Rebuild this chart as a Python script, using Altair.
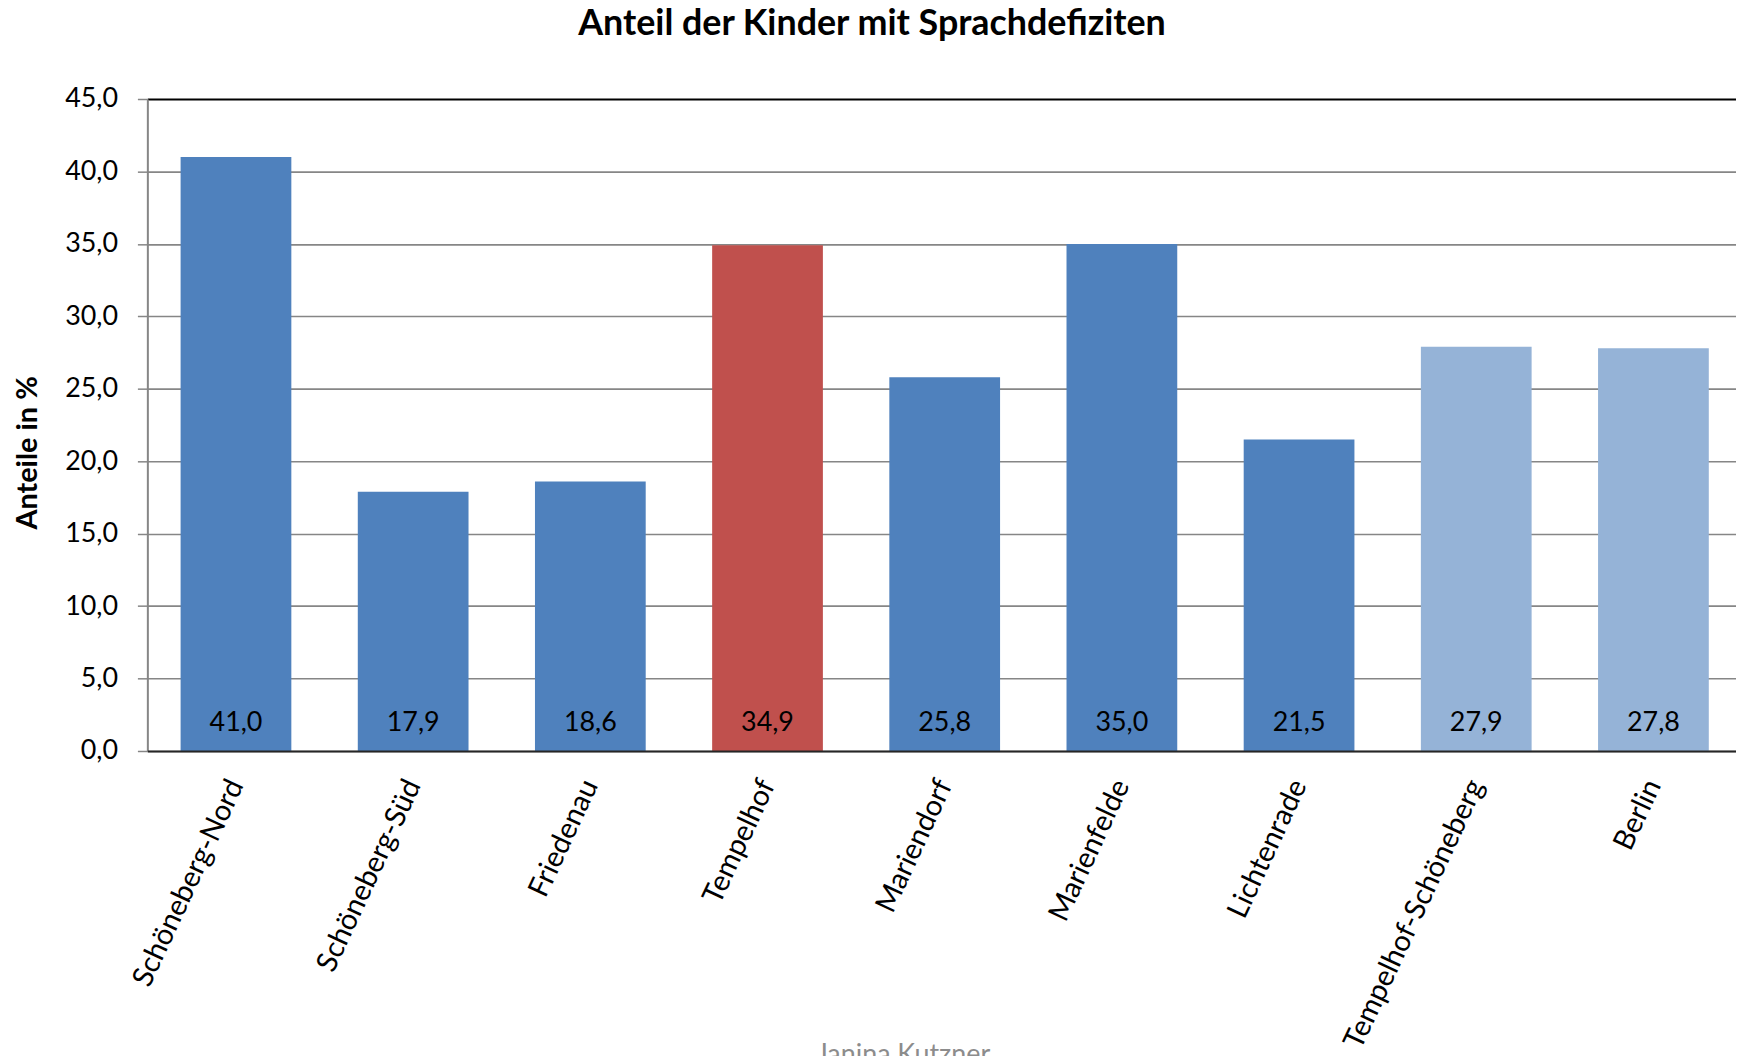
import altair as alt
import pandas as pd

categories = ["Schöneberg-Nord", "Schöneberg-Süd", "Friedenau", "Tempelhof",
              "Mariendorf", "Marienfelde", "Lichtenrade", "Tempelhof-Schöneberg", "Berlin"]
values = [41.0, 17.9, 18.6, 34.9, 25.8, 35.0, 21.5, 27.9, 27.8]
groups = ["Ortsteil", "Ortsteil", "Ortsteil", "Tempelhof", "Ortsteil",
          "Ortsteil", "Ortsteil", "Vergleich", "Vergleich"]
group_domain = ["Ortsteil", "Tempelhof", "Vergleich"]
group_colors = ["#4F81BD", "#C0504D", "#95B3D7"]
y_ticks = [0, 5, 10, 15, 20, 25, 30, 35, 40, 45]

df = pd.DataFrame({"Ortsteil": categories, "Wert": values, "Gruppe": groups})

FONT = "Lato"

x_enc = alt.X(
    "Ortsteil:N",
    sort=categories,
    scale=alt.Scale(paddingInner=0.375, paddingOuter=0.1706, align=0.55),
    axis=alt.Axis(
        title="Janina Kutzner",
        titleColor="#8C8C8C",
        titleFont=FONT,
        titleFontSize=27,
        titleFontWeight="normal",
        titleBaseline="top",
        titleAlign="center",
        titleAnchor="start",
        titleX=759,
        titleY=292,
        labelAngle=-65,
        labelAlign="right",
        labelBaseline="middle",
        labelFontSize=29,
        labelFont=FONT,
        labelColor="#000000",
        labelPadding=30,
        labelOverlap=False,
        labelLimit=0,
        ticks=False,
        domainColor="#262626",
        domainWidth=2,
        zindex=1,
    ),
)

y_scale = alt.Scale(domain=[0, 45], nice=False, zero=True)

bars = alt.Chart(df).mark_bar().encode(
    x=x_enc,
    y=alt.Y(
        "Wert:Q",
        scale=y_scale,
        axis=alt.Axis(
            title="Anteile in %",
            titleFont=FONT,
            titleFontSize=29,
            titleFontWeight="bold",
            titleColor="#000000",
            titleAngle=270,
            titleBaseline="alphabetic",
            titleAlign="center",
            titleAnchor="start",
            titleX=-111,
            titleY=355,
            values=y_ticks,
            labelExpr="replace(format(datum.value, '.1f'), '.', ',')",
            labelFont=FONT,
            labelFontSize=27,
            labelColor="#000000",
            labelPadding=20,
            tickSize=10,
            tickColor="#868686",
            tickWidth=1.5,
            domainColor="#868686",
            domainWidth=2,
            grid=True,
            gridColor={"condition": {"test": "datum.value === 45", "value": "#000000"}, "value": "#868686"},
            gridWidth={"condition": {"test": "datum.value === 45", "value": 2.2}, "value": 1.6},
            zindex=0,
        ),
    ),
    color=alt.Color("Gruppe:N", scale=alt.Scale(domain=group_domain, range=group_colors), legend=None),
)

labels = alt.Chart(df).transform_calculate(
    Beschriftung="replace(format(datum.Wert, '.1f'), '.', ',')"
).mark_text(
    font=FONT, fontSize=27, color="#000000", baseline="alphabetic", align="center", dy=-20
).encode(
    x=alt.X("Ortsteil:N", sort=categories),
    y=alt.datum(0),
    text="Beschriftung:N",
)

chart = alt.layer(bars, labels).properties(
    width=1596,
    height=655,
    autosize=alt.AutoSizeParams(type="none"),
    padding={"left": 140, "top": 89, "right": 0, "bottom": 304},
    title=alt.TitleParams(
        "Anteil der Kinder mit Sprachdefiziten",
        font=FONT,
        fontSize=36,
        fontWeight="bold",
        color="#000000",
        anchor="middle",
        frame="group",
        baseline="alphabetic",
        offset=45,
        dx=-70,
        dy=31,
    ),
).configure_view(strokeWidth=0).configure(background="#FFFFFF")

chart.save("out.html", embed_options={"renderer": "svg", "actions": False})
